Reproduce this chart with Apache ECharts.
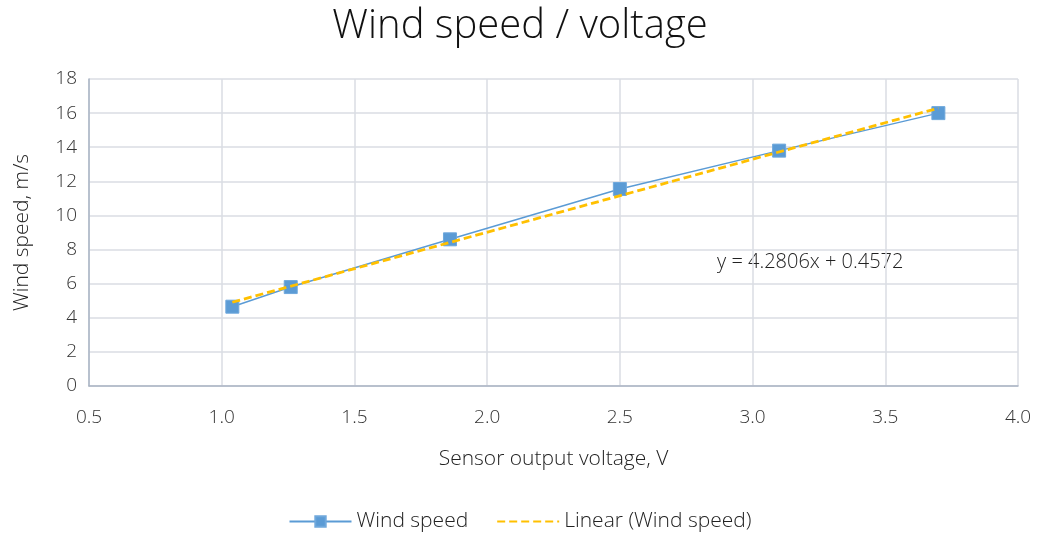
<!DOCTYPE html>
<html>
<head>
<meta charset="utf-8">
<script src="https://cdn.jsdelivr.net/npm/echarts@6/dist/echarts.min.js"></script>
<style>
html, body { margin: 0; padding: 0; background: #fff; }
#chart { width: 1040px; height: 539px; }
</style>
</head>
<body>
<div id="chart"></div>
<script>
// measured points
var voltage = [1.04, 1.26, 1.86, 2.50, 3.10, 3.70];
var windSpeed = [4.65, 5.8, 8.6, 11.55, 13.8, 16.0];
// trendline ends
var trendX = [1.04, 3.70];
var trendY = [4.91, 16.29];
var equation = 'y = 4.2806x + 0.4572';

var font = '"Open Sans", Lato, sans-serif';
var chart = echarts.init(document.getElementById('chart'));

var option = {
    backgroundColor: '#fff',
    textStyle: {fontFamily: font, fontWeight: 300},
    title: {
        text: 'Wind speed / voltage',
        left: 'center',
        top: 2,
        textStyle: {fontSize: 40, fontWeight: 300, color: '#111', fontFamily: font}
    },
    legend: {
        bottom: 2,
        left: 'center',
        itemWidth: 62,
        itemHeight: 13,
        itemGap: 28,
        textStyle: {fontSize: 21, fontWeight: 300, color: '#222', fontFamily: font},
        data: [
            {name: 'Wind speed'},
            {name: 'Linear (Wind speed)', itemStyle: {opacity: 0}}
        ]
    },
    grid: {left: 89, right: 22, top: 79, bottom: 153},
    xAxis: {
        type: 'value',
        min: 0.5, max: 4.0, interval: 0.5,
        name: 'Sensor output voltage, V',
        nameLocation: 'middle',
        nameGap: 63,
        nameTextStyle: {fontSize: 21, fontWeight: 300, color: '#222'},
        axisLine: {lineStyle: {color: '#aab4c4', width: 1.5}},
        axisTick: {show: false},
        axisLabel: {fontSize: 19, fontWeight: 300, color: '#333', margin: 22,
            formatter: function(v){ return v.toFixed(1); }},
        splitLine: {show: true, lineStyle: {color: '#dadde3', width: 1.5}}
    },
    yAxis: {
        type: 'value',
        min: 0, max: 18, interval: 2,
        name: 'Wind speed, m/s',
        nameLocation: 'middle',
        nameGap: 56,
        nameTextStyle: {fontSize: 21, fontWeight: 300, color: '#222'},
        axisLine: {show: true, lineStyle: {color: '#aab4c4', width: 1.5}},
        axisTick: {show: false},
        axisLabel: {fontSize: 19, fontWeight: 300, color: '#333', margin: 12},
        splitLine: {show: true, lineStyle: {color: '#dadde3', width: 1.5}}
    },
    graphic: [{
        type: 'text',
        left: 717,
        top: 252,
        style: {text: equation, fontSize: 20, fontWeight: 300, fill: '#222', fontFamily: font}
    }],
    series: [
        {
            name: 'Wind speed',
            type: 'line',
            data: voltage.map(function(v, i){ return [v, windSpeed[i]]; }),
            symbol: 'rect',
            symbolSize: 13,
            itemStyle: {color: '#5b9bd5', borderColor: '#6fa8dc', borderWidth: 1},
            lineStyle: {color: '#5b9bd5', width: 1.5},
            z: 2
        },
        {
            name: 'Linear (Wind speed)',
            type: 'line',
            data: trendX.map(function(v, i){ return [v, trendY[i]]; }),
            symbol: 'none',
            itemStyle: {color: '#ffc000'},
            lineStyle: {color: '#ffc000', width: 2.8, type: [8, 4]},
            z: 3
        }
    ]
};

chart.setOption(option);
</script>
</body>
</html>
